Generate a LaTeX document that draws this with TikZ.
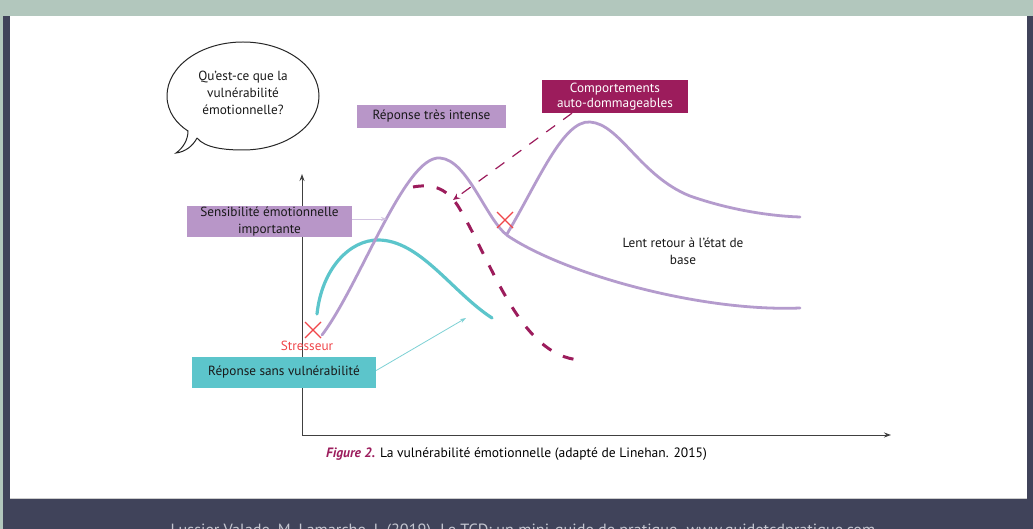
\documentclass[tikz,border=0pt]{standalone}
\usepackage{fontspec}
\setmainfont{PT Sans}
\usetikzlibrary{arrows.meta,shapes.geometric,calc}
\definecolor{slate}{HTML}{40435A}
\definecolor{sage}{HTML}{B2C7BD}
\definecolor{lav}{HTML}{B49BCD}
\definecolor{lavbox}{HTML}{B896C8}
\definecolor{teal1}{HTML}{5CC5CB}
\definecolor{maroon1}{HTML}{9C1C5C}
\definecolor{red1}{HTML}{F0464A}
\definecolor{foot}{HTML}{C4C6D0}
\tikzset{
  lbl/.style={font=\fontsize{13.3}{16.8}\selectfont, text=black!90, align=center, inner sep=0pt},
  boxlav/.style={fill=lavbox, draw=none},
  boxteal/.style={fill=teal1, draw=none},
  boxmar/.style={fill=maroon1, draw=none},
  axis/.style={draw=black!75, line width=1pt, -{Stealth[length=7pt,width=5pt]}},
  lavcurve/.style={draw=lav, line width=2.8pt, line cap=round},
  tealcurve/.style={draw=teal1, line width=3.2pt, line cap=round},
  mardash/.style={draw=maroon1, line width=3pt, dash pattern=on 11pt off 13pt},
  thinarrow/.style={line width=0.8pt, -{Stealth[length=6pt,width=4pt]}},
  redx/.style={draw=red1, line width=1.1pt}
}
\begin{document}
\begin{tikzpicture}[x=1bp,y=-1bp]
\useasboundingbox (0,0) rectangle (1033,529);
\clip (0,0) rectangle (1033,529);
% background
\fill[slate] (0,0) rectangle (1033,529);
\fill[sage] (0,0) rectangle (1033,16);
\fill[sage] (0,0) rectangle (3,529);
\fill[white] (10,16) rectangle (1027,498);
\draw[black!20, line width=0.8pt] (10,498) -- (1027,498);
\node[anchor=base, text=foot, font=\fontsize{16.3}{18}\selectfont] (src) at (523,535)
  {Lussier Valade, M. Lamarche, L (2019). Le TCD: un mini-guide de pratique. www.guidetcdpratique.com};

% speech bubble
\coordinate (bc) at (243,93);
\draw[black!85, line width=1pt]
  (197,138) .. controls (205,148) and (225,150) .. (243,150)
  .. controls (285,150) and (319,126) .. (319,96)
  .. controls (319,66) and (285,42) .. (243,42)
  .. controls (201,42) and (167,66) .. (167,96)
  .. controls (167,112) and (177,124) .. (188,131)
  .. controls (188,140) and (183,148) .. (176,153)
  .. controls (185,152) and (193,146) .. (197,138);
\node[lbl] (q) at (bc) {Qu’est-ce que la\\ vulnérabilité\\ émotionnelle?};

% axes
\coordinate (o) at (302,435);
\coordinate (ytop) at (302,174);
\coordinate (xend) at (891,435);
\draw[axis] (o) -- (ytop);
\draw[axis] (o) -- (xend);

% curves
\draw[tealcurve] (317,314) .. controls (322,268) and (350,240) .. (378,240)
  .. controls (420,240) and (452,292) .. (492,318);
\draw[lavcurve] (322,335) .. controls (360,285) and (405,155) .. (440,158)
  .. controls (468,160) and (486,220) .. (508,236)
  .. controls (565,274) and (700,312) .. (800,308);
\draw[lavcurve] (507,234) .. controls (538,182) and (563,120) .. (590,122)
  .. controls (620,124) and (640,176) .. (690,196)
  .. controls (730,210) and (770,216) .. (800,217);
\draw[mardash] (413,187) .. controls (430,184) and (445,186) .. (458,206)
  .. controls (492,262) and (520,356) .. (580,360);

% red crosses
\coordinate (x1) at (313,330);
\coordinate (x2) at (505,220);
\draw[redx] ($(x1)+(-8,-8)$) -- ($(x1)+(8,8)$) ($(x1)+(-8,8)$) -- ($(x1)+(8,-8)$);
\draw[redx] ($(x2)+(-8,-8)$) -- ($(x2)+(8,8)$) ($(x2)+(-8,8)$) -- ($(x2)+(8,-8)$);
\node[lbl, text=red1] (stress) at (307,346) {Stresseur};

% label boxes
\node[boxlav, minimum width=149bp, minimum height=23bp, lbl] (intense) at (431.5,116.5) {Réponse très intense};
\node[boxmar, minimum width=146bp, minimum height=33bp, lbl, text=white, font=\fontsize{13.3}{15.5}\selectfont] (comport) at (615,96.5) {Comportements\\ auto-dommageables};
\node[boxlav, minimum width=165bp, minimum height=31bp, lbl] (sensib) at (269.5,221.5) {Sensibilité émotionnelle\\ importante};
\node[boxteal, minimum width=184bp, minimum height=31bp, lbl] (sans) at (284,372.5) {Réponse sans vulnérabilité};
\node[lbl] (lent) at (683,251.5) {Lent retour à l’état de\\ base};

% connectors
\coordinate (sensibtip) at (387,219);
\coordinate (santip) at (466,318);
\coordinate (dmtip) at (453,200);
\draw[thinarrow, draw=lav!60, line width=0.9pt] (sensib.east |- sensibtip) -- (sensibtip);
\draw[thinarrow, draw=teal1!80] (sans.east) ++(0,-2) -- (santip);
\draw[draw=maroon1, line width=1.2pt, dash pattern=on 11pt off 10pt, -{Stealth[length=7pt,width=6pt]}] (comport.south) ++(-43,0) -- (dmtip);

% caption
\node[anchor=base west, font=\fontsize{13.6}{15}\selectfont, inner sep=0pt] (cap) at (326,457)
  {\textcolor{maroon1}{\textbf{\textit{Figure 2.}}} La vulnérabilité émotionnelle (adapté de Linehan. 2015)};
\end{tikzpicture}
\end{document}
